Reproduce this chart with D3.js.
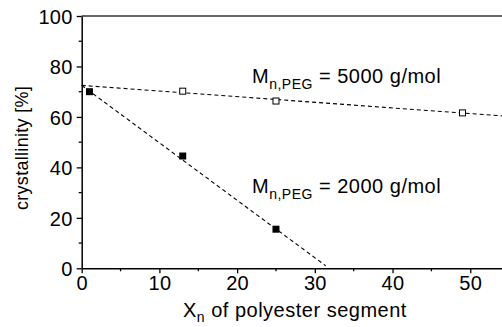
<!DOCTYPE html>
<html>
<head>
<meta charset="utf-8">
<script src="https://cdn.jsdelivr.net/npm/d3@7"></script>
<style>
  body { margin: 0; background: #fff; }
  svg text { font-family: "Liberation Sans", Arial, sans-serif; fill: #000; }
</style>
</head>
<body>
<div id="chart"></div>
<script>
// measured points
var xn2000 = [1, 13, 25];
var cryst2000 = [70, 44.5, 15.5];
var xn5000 = [13, 25, 49];
var cryst5000 = [70.2, 66.3, 61.6];

// dashed fit lines (end points)
var fit2000 = [[0, 72.5], [31.4, 1]];
var fit5000 = [[0, 72.5], [54.6, 60.3]];

var xTicks = [0, 10, 20, 30, 40, 50];
var yTicks = [0, 20, 40, 60, 80, 100];

var width = 502, height = 327;

var x = d3.scaleLinear().domain([0, 54.6]).range([81.7, 506]);
var y = d3.scaleLinear().domain([0, 100]).range([268.3, 16]);

var svg = d3.select("#chart").append("svg")
    .attr("width", width)
    .attr("height", height);

// top frame line
svg.append("line")
    .attr("x1", x(0)).attr("x2", width)
    .attr("y1", y(100)).attr("y2", y(100))
    .attr("stroke", "#333").attr("stroke-width", 1.3);

// minor ticks
var xMinor = d3.range(5, 55, 10);
var yMinor = d3.range(10, 100, 20);

var xAxis = svg.append("g")
    .attr("transform", "translate(0," + y(0) + ")")
    .call(d3.axisBottom(x).tickValues(xTicks).tickSize(5).tickPadding(2).tickSizeOuter(0));
xAxis.append("g").selectAll("line").data(xMinor).enter().append("line")
    .attr("x1", d => x(d)).attr("x2", d => x(d))
    .attr("y1", 0).attr("y2", 3)
    .attr("stroke", "#000").attr("stroke-width", 1.3);

var yAxis = svg.append("g")
    .attr("transform", "translate(" + x(0) + ",0)")
    .call(d3.axisLeft(y).tickValues(yTicks).tickSize(5).tickPadding(4).tickSizeOuter(0));
yAxis.append("g").selectAll("line").data(yMinor).enter().append("line")
    .attr("x1", 0).attr("x2", -3)
    .attr("y1", d => y(d)).attr("y2", d => y(d))
    .attr("stroke", "#000").attr("stroke-width", 1.3);

svg.selectAll(".domain").attr("stroke", "#000").attr("stroke-width", 1.5);
svg.selectAll(".tick line").attr("stroke", "#000").attr("stroke-width", 1.3);
svg.selectAll(".tick text")
    .style("font-family", "'Liberation Sans', Arial, sans-serif")
    .style("font-size", "20px")
    .style("letter-spacing", "0.3px")
    .attr("fill", "#000");
xAxis.selectAll(".tick text").attr("dy", "0.75em");
yAxis.selectAll(".tick text").attr("dy", "0.36em");

// fit lines
var line = d3.line().x(d => x(d[0])).y(d => y(d[1]));
[fit2000, fit5000].forEach(function(f) {
    svg.append("path")
        .attr("d", line(f))
        .attr("fill", "none")
        .attr("stroke", "#000")
        .attr("stroke-width", 1.1)
        .attr("stroke-dasharray", "4,3");
});

// markers
svg.selectAll(".filled")
    .data(xn2000.map((d, i) => [d, cryst2000[i]]))
    .enter().append("rect")
    .attr("x", d => x(d[0]) - 3.5)
    .attr("y", d => y(d[1]) - 3.5)
    .attr("width", 7).attr("height", 7)
    .attr("fill", "#000");

svg.selectAll(".open")
    .data(xn5000.map((d, i) => [d, cryst5000[i]]))
    .enter().append("rect")
    .attr("x", d => x(d[0]) - 3)
    .attr("y", d => y(d[1]) - 3)
    .attr("width", 6).attr("height", 6)
    .attr("fill", "#fff")
    .attr("stroke", "#000")
    .attr("stroke-width", 1);

// annotations
function annot(ypos, value) {
    var t = svg.append("text")
        .attr("x", 252).attr("y", ypos)
        .style("font-size", "20px")
        .style("letter-spacing", "0.5px");
    t.append("tspan").text("M");
    t.append("tspan").attr("dy", 6).style("font-size", "14px").text("n,PEG");
    t.append("tspan").attr("dy", -6).text(" = " + value + " g/mol");
}
annot(83, "5000");
annot(193, "2000");

// axis titles
var xt = svg.append("text")
    .attr("x", 183).attr("y", 317)
    .style("font-size", "20px")
    .style("letter-spacing", "0.5px");
xt.append("tspan").text("X");
xt.append("tspan").attr("dy", 5).style("font-size", "14px").text("n");
xt.append("tspan").attr("dy", -5).text(" of polyester segment");

svg.append("text")
    .attr("transform", "translate(28,148) rotate(-90)")
    .attr("text-anchor", "middle")
    .style("font-size", "18px")
    .style("letter-spacing", "0.3px")
    .text("crystallinity [%]");
</script>
</body>
</html>
